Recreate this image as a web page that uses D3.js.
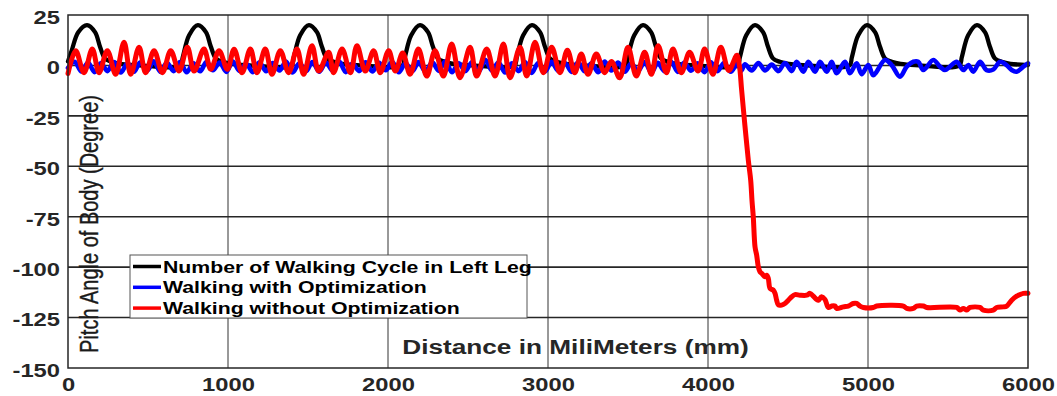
<!DOCTYPE html>
<html>

<head>
    <meta charset="utf-8">
    <title>Pitch Angle of Body</title>
    <script src="https://d3js.org/d3.v7.min.js"></script>
    <style>
        body {
            margin: 0;
            background: #fff;
        }

        text {
            font-family: "Liberation Sans", Arial, sans-serif;
        }

        .tick-label {
            font-size: 19px;
            font-weight: bold;
            fill: #262626;
        }

        .legend-label {
            font-size: 17px;
            font-weight: bold;
            fill: #000;
        }
    </style>
</head>

<body>
    <div id="graph"></div>
    <script>
        // axis ticks
        const xTicks = [0, 1000, 2000, 3000, 4000, 5000, 6000];
        const yTicks = [25, 0, -25, -50, -75, -100, -125, -150];

        // legend entries, drawing order
        const seriesNames = [
            "Number of Walking Cycle in Left Leg",
            "Walking with Optimization",
            "Walking without Optimization"
        ];

        // [distance mm, degree]
        const cycleData = [
            [0, 2], [24, 7.6], [64, 16.5], [119, 20], [169, 16.5], [200, 9.3], [231, 3.5], [273, 1.8], [325, 0.8], [420, 0.2],
            [702, 0], [717, 4], [757, 15], [812, 20], [862, 16.5], [892, 9.5], [924, 3.5], [967, 1.8], [1022, 0.8], [1112, 0.2],
            [1396, 0], [1411, 4], [1451, 15], [1506, 20], [1556, 16.5], [1586, 9.5], [1618, 3.5], [1661, 1.8], [1716, 0.8], [1806, 0.2],
            [2090, 0], [2105, 4], [2145, 15], [2200, 20], [2250, 16.5], [2280, 9.5], [2312, 3.5], [2355, 1.8], [2410, 0.8], [2500, 0.2],
            [2790, 0], [2805, 4], [2845, 15], [2900, 20], [2950, 16.5], [2980, 9.5], [3012, 3.5], [3055, 1.8], [3110, 0.8], [3200, 0.2],
            [3484, 0], [3499, 4], [3539, 15], [3594, 20], [3644, 16.5], [3674, 9.5], [3706, 3.5], [3749, 1.8], [3804, 0.8], [3894, 0.2],
            [4184, 0], [4199, 4], [4239, 15], [4294, 20], [4344, 16.5], [4374, 9.5], [4406, 3.5], [4449, 1.8], [4504, 0.8], [4594, 0.2],
            [4884, 0], [4899, 4], [4939, 15], [4994, 20], [5044, 16.5], [5074, 9.5], [5106, 3.5], [5149, 1.8], [5204, 0.8], [5294, 0.2],
            [5571, 0], [5586, 4], [5626, 15], [5681, 20], [5731, 16.5], [5761, 9.5], [5793, 3.5], [5836, 1.8], [5891, 0.8], [6000, 0.2]
        ];

        const withOptData = [
            [0, -1.2], [42, 1.8], [84, -3.0], [125, 1.4], [166, -3.3], [206, 1.2], [246, -2.8], [288, 1.7], [330, -3.5], [372, 1.0],
            [412, -3.1], [452, 1.6], [494, -2.6], [536, 2.0], [578, -3.2], [618, 1.3], [660, -2.8], [700, 1.7], [742, -3.4], [784, 1.1],
            [826, -2.9], [866, 1.8], [906, -2.4], [948, 1.4], [990, -3.2], [1030, 1.9], [1072, -2.7], [1114, 0.8], [1156, -3.3], [1196, 1.5],
            [1238, -2.9], [1280, 1.2], [1322, -2.5], [1362, 1.9], [1404, -3.5], [1446, 1.0], [1488, -2.8], [1528, 1.7], [1570, -3.1], [1612, 1.4],
            [1654, -2.6], [1694, 2.0], [1736, -3.3], [1778, 0.9], [1820, -2.8], [1860, 1.6], [1902, -3.0], [1944, 1.3], [1986, -2.4], [2026, 1.8],
            [2068, -3.4], [2110, 1.1], [2152, -2.9], [2192, 1.7], [2234, -3.1], [2276, 1.5], [2318, -2.7], [2358, 2.1], [2400, -3.3], [2442, 1.0],
            [2484, -2.8], [2524, 1.6], [2566, -3.1], [2608, 2.8], [2650, -2.6], [2690, 1.4], [2732, -3.5], [2774, 1.1], [2816, -2.8], [2856, 1.7],
            [2898, -3.7], [2940, 1.3], [2982, -3.0], [3022, 1.8], [3064, -2.6], [3106, 1.2], [3148, -3.2], [3188, 1.6], [3230, -2.9], [3272, 1.1],
            [3314, -3.4], [3354, 1.9], [3396, -2.5], [3438, 1.4], [3480, -3.1], [3520, 1.0], [3562, -2.8], [3604, 1.7], [3646, -3.6], [3686, 1.3],
            [3728, -2.9], [3770, 1.8], [3812, -3.2], [3852, 1.4], [3894, -2.6], [3936, 1.1], [3978, -3.3], [4018, 1.5], [4060, -2.8], [4100, 1.2],
            [4142, -3.1], [4184, 1.0], [4208, -2.6], [4231, 0.6], [4273, -2.5], [4315, 1.2], [4356, -2.5], [4398, 0.4], [4440, -2.8], [4481, 1.2],
            [4523, -2.8], [4554, 1.8], [4596, -3.1], [4627, 1.8], [4669, -3.1], [4700, 1.8], [4742, -3.1], [4773, 1.8], [4804, -3.9], [4856, 1.8],
            [4887, -3.9], [4929, 1.0], [4960, -4.3], [5002, 0.2], [5033, -4.8], [5106, 2.7], [5148, 0.2], [5200, -5.6], [5242, -0.6], [5283, 1.8],
            [5314, 1.8], [5346, -2.3], [5408, 2.7], [5450, -0.6], [5481, -2.3], [5512, -0.6], [5554, 1.8], [5596, -2.3], [5627, 0.2], [5658, -3.1],
            [5700, 1.8], [5741, -2.3], [5783, -2.0], [5825, 1.8], [5866, 0.2], [5898, -2.3], [5929, -3.1], [5971, -0.6], [6000, 1.0]
        ];

        const withoutOptData = [
            [0, -4], [48, 7.3], [100, -3.6], [152, 8.1], [194, -3.6], [246, 7.3], [298, -4.4], [350, 11.5], [392, -4.4], [444, 9],
            [485, -3.6], [538, 7.3], [590, -3.6], [642, 7.3], [694, -2.8], [746, 9], [788, -2.8], [850, 8.1], [892, -1.9], [944, 7.3],
            [996, -1.9], [1038, 8], [1088, -3.6], [1140, 8.1], [1181, -3.6], [1233, 8.1], [1275, -4.4], [1327, 7.3], [1379, -3.6], [1431, 8.1],
            [1473, -4.4], [1525, 9.8], [1567, -2.8], [1629, 6.5], [1660, -3.6], [1713, 8.1], [1765, -3.6], [1806, 9.8], [1858, -2.8], [1910, 7.3],
            [1952, -3.6], [2004, 7.3], [2046, -2.8], [2092, 6.1], [2138, -4.4], [2190, 8.1], [2242, -5.3], [2294, 7.3], [2346, -5.3], [2398, 10.6],
            [2450, -6.1], [2513, 9], [2554, -5.3], [2617, 8.1], [2669, -5.3], [2721, 10.6], [2763, -6.1], [2825, 9], [2867, -5.3], [2919, 11.5],
            [2971, -3.6], [3023, 9], [3075, -3.6], [3121, 7.5], [3167, -3.6], [3208, 5.7], [3250, -4.4], [3302, 5.7], [3354, -3.6], [3396, 2],
            [3448, -6.1], [3500, 9], [3552, -5.3], [3604, 6.5], [3646, -4.4], [3688, 9.8], [3740, -3.6], [3781, 8.1], [3833, -3.6], [3885, 6.5],
            [3938, -2.8], [3979, 8.1], [4031, -4.4], [4080, 9], [4130, -2.5], [4180, 5], [4196, 0], [4210, -12], [4231, -30], [4252, -47],
            [4267, -57], [4275, -67], [4283, -75], [4294, -90], [4304, -94], [4315, -100], [4325, -102.3], [4335, -103], [4346, -104], [4356, -104.8],
            [4367, -104], [4377, -105.6], [4388, -110.6], [4408, -111.4], [4419, -113], [4429, -116.4], [4440, -118.8], [4460, -118.8], [4481, -118], [4502, -116.4],
            [4523, -114.7], [4544, -113.6], [4575, -113.9], [4617, -113.9], [4638, -113], [4658, -114.4], [4679, -116], [4690, -116.4], [4710, -114.7], [4731, -116],
            [4752, -120], [4773, -119.3], [4794, -119.3], [4804, -120.5], [4846, -119.7], [4877, -119.3], [4908, -118], [4929, -118], [4950, -119.3], [4971, -120],
            [5033, -120], [5054, -119.3], [5221, -119.3], [5242, -120.5], [5283, -120.5], [5304, -119.3], [5346, -119.3], [5367, -120], [5554, -120], [5575, -121.3],
            [5596, -120.5], [5617, -121.3], [5638, -120], [5700, -120], [5721, -121.3], [5783, -121.3], [5804, -120], [5846, -119.7], [5867, -119.3], [5898, -116.4],
            [5929, -114.4], [5950, -113.6], [5971, -113], [6000, -113]
        ];

        const seriesColors = ["#000000", "#0000ff", "#ff0000"];
        const seriesWidths = [4.3, 4.6, 5];

        createGraph();

        function createGraph() {
            const width = 1057,
                height = 396,
                plot = { left: 68, right: 1028, top: 15, bottom: 368 },
                stretch = 1.25; // the original text is drawn a bit wide

            const x = d3.scaleLinear()
                .domain([0, 6000])
                .range([plot.left, plot.right]);

            const y = d3.scaleLinear()
                .domain([-150, 25])
                .range([plot.bottom, plot.top]);

            const svg = d3.select("#graph").append("svg")
                .attr("width", width)
                .attr("height", height);

            // widen text by setting its length
            function widen(sel, k) {
                sel.each(function () {
                    const len = this.getComputedTextLength();
                    d3.select(this)
                        .attr("textLength", len * (k || stretch))
                        .attr("lengthAdjust", "spacingAndGlyphs");
                });
            }

            // grid
            svg.append("g")
                .selectAll("line")
                .data(xTicks.slice(1, -1))
                .enter().append("line")
                .attr("x1", d => x(d)).attr("x2", d => x(d))
                .attr("y1", plot.top).attr("y2", plot.bottom)
                .attr("stroke", "#333")
                .attr("stroke-width", 1);

            svg.append("g")
                .selectAll("line")
                .data(yTicks.slice(1, -1))
                .enter().append("line")
                .attr("x1", plot.left).attr("x2", plot.right)
                .attr("y1", d => y(d)).attr("y2", d => y(d))
                .attr("stroke", "#262626")
                .attr("stroke-width", 1.6);

            // series
            const line = d3.line()
                .x(d => x(d[0]))
                .y(d => y(d[1]))
                .curve(d3.curveCatmullRom.alpha(0.5));

            [cycleData, withOptData, withoutOptData].forEach((data, i) => {
                svg.append("path")
                    .datum(data)
                    .attr("fill", "none")
                    .attr("stroke", seriesColors[i])
                    .attr("stroke-width", seriesWidths[i])
                    .attr("stroke-linejoin", "round")
                    .attr("stroke-linecap", "round")
                    .attr("d", line);
            });

            // frame
            svg.append("rect")
                .attr("x", plot.left)
                .attr("y", plot.top)
                .attr("width", plot.right - plot.left)
                .attr("height", plot.bottom - plot.top)
                .attr("fill", "none")
                .attr("stroke", "#262626")
                .attr("stroke-width", 1.5);

            // axes
            const xAxis = svg.append("g")
                .attr("transform", "translate(0," + plot.bottom + ")")
                .call(d3.axisBottom(x).tickValues(xTicks).tickSize(0).tickPadding(9.5).tickFormat(d => String(d)));
            xAxis.select(".domain").remove();
            xAxis.selectAll(".tick text")
                .attr("class", "tick-label")
                .call(widen);

            const yAxis = svg.append("g")
                .attr("transform", "translate(" + plot.left + ",0)")
                .call(d3.axisLeft(y).tickValues(yTicks).tickSize(0).tickPadding(8).tickFormat(d => String(d)));
            yAxis.select(".domain").remove();
            yAxis.selectAll(".tick text")
                .attr("class", "tick-label")
                .attr("dy", "0.44em")
                .call(widen);
            svg.selectAll(".tick line").remove();
            xAxis.attr("font-family", null).attr("font-size", null);
            yAxis.attr("font-family", null).attr("font-size", null);

            // axis titles
            svg.append("text")
                .attr("x", 575.5)
                .attr("y", 354)
                .attr("text-anchor", "middle")
                .attr("font-size", 20)
                .attr("font-weight", "bold")
                .attr("fill", "#262626")
                .text("Distance in MiliMeters (mm)")
                .call(widen, 1.31);

            svg.append("text")
                .attr("transform", "translate(98,224) scale(1.3,1) rotate(-90)")
                .attr("text-anchor", "middle")
                .attr("font-size", 20)
                .attr("fill", "#1a1a1a")
                .attr("stroke", "#1a1a1a")
                .attr("stroke-width", 0.3)
                .text("Pitch Angle of Body (Degree)");

            // legend
            const legend = svg.append("g")
                .attr("transform", "translate(130,255)");

            legend.append("rect")
                .attr("width", 397)
                .attr("height", 63)
                .attr("fill", "#fff")
                .attr("stroke", "#555")
                .attr("stroke-width", 1);

            const item = legend.selectAll("g")
                .data(seriesNames)
                .enter().append("g")
                .attr("transform", (d, i) => "translate(0," + (11.5 + i * 20.8) + ")");

            item.append("line")
                .attr("x1", 3).attr("x2", 31)
                .attr("stroke", (d, i) => seriesColors[i])
                .attr("stroke-width", 3.5);

            item.append("text")
                .attr("class", "legend-label")
                .attr("x", 33)
                .attr("y", 6)
                .text(d => d)
                .call(widen);
        }
    </script>
</body>

</html>
